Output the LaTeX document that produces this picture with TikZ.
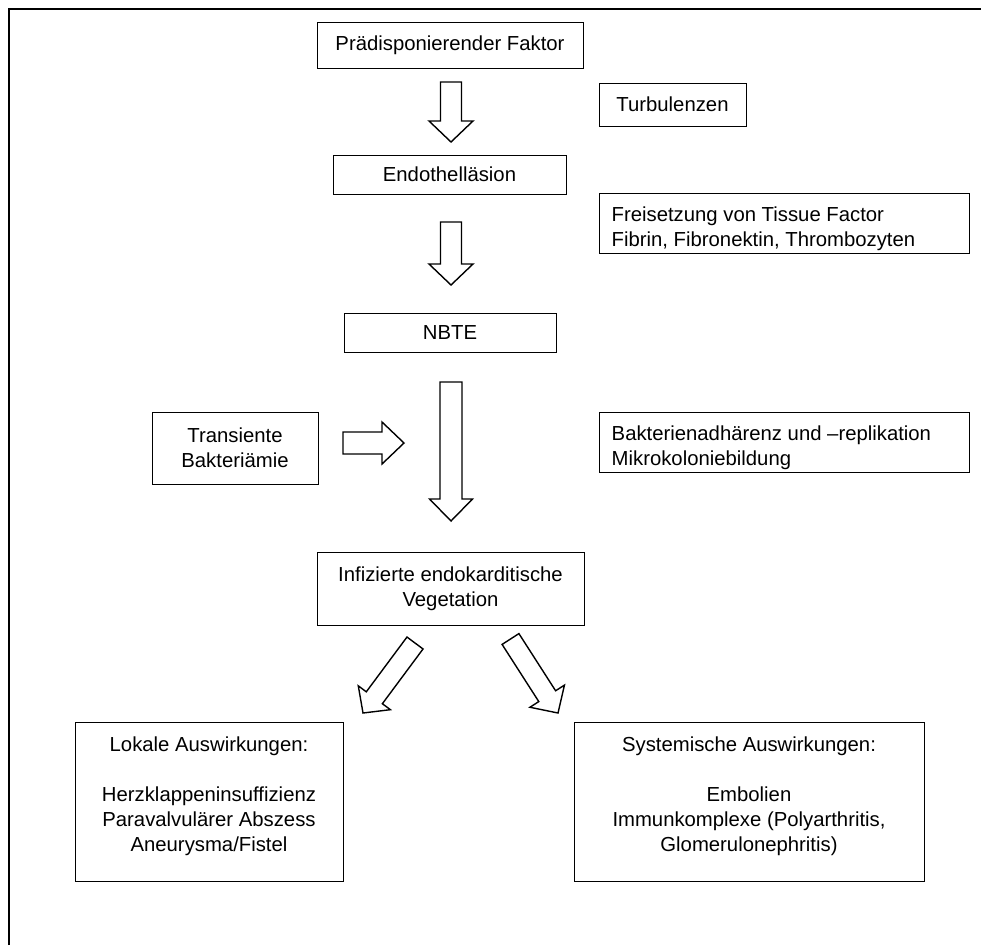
\documentclass[tikz,border=0pt]{standalone}
\usepackage{fontspec}
\setmainfont{Liberation Sans}
\usetikzlibrary{calc}

\tikzset{
   box/.style={draw, line width=1pt, inner sep=0pt, align=center},
   blockarrow/.style={draw, line width=1.4pt, fill=white, line join=miter},
   frame/.style={line width=2.7pt},
   boxhead/.style={anchor=north, inner sep=0pt, yshift=-15.5pt, align=center},
   sidehead/.style={anchor=north west, inner sep=0pt, xshift=13pt, yshift=-14.5pt, align=left}
}

% hollow block arrow from #1 to #2: half shaft #3, half head #4, head length #5
\newcommand{\blockarrow}[5]{%
   \coordinate (#1-#2) at ($(#2)!#5pt!(#1)$);
   \draw[blockarrow] ($(#1)!#3pt!90:(#2)$) -- ($(#1-#2)!#3pt!90:(#2)$)
      -- ($(#1-#2)!#4pt!90:(#2)$) -- (#2) -- ($(#1-#2)!#4pt!-90:(#2)$)
      -- ($(#1-#2)!#3pt!-90:(#2)$) -- ($(#1)!#3pt!-90:(#2)$) -- cycle;}

\begin{document}
\begin{tikzpicture}[x=1pt, y=-1pt, font=\fontsize{20.3}{25}\selectfont]
   \useasboundingbox (0,0) rectangle (981,945);
   % Frame
   \draw[frame] (9,945) -- (9,9) -- (981,9);
   % Main chain
   \node[box, minimum width=266, minimum height=46] (faktor) at (450,45) {Prädisponierender Faktor};
   \node[box, minimum width=233, minimum height=39] (laesion) at (449.5,174.5) {Endothelläsion};
   \node[box, minimum width=212, minimum height=39] (nbte) at (450,332.5) {NBTE};
   \node[box, minimum width=267, minimum height=73] (vegetation) at (450.5,588.5) {Infizierte endokarditische\\Vegetation};
   % Side boxes
   \node[box, minimum width=147, minimum height=43] (turbulenz) at (672.5,104.5) {Turbulenzen};
   \node[box, minimum width=370, minimum height=60,
      label={[sidehead]north west:{Freisetzung von Tissue Factor\\Fibrin, Fibronektin, Thrombozyten}}]
      (tissue) at (784,223) {};
   \node[box, minimum width=370, minimum height=60,
      label={[sidehead]north west:{Bakterienadhärenz und –replikation\\Mikrokoloniebildung}}]
      (adhaerenz) at (784,442) {};
   \node[box, minimum width=166, minimum height=72] (bakteriaemie) at (235,448) {Transiente\\Bakteriämie};
   % Consequences
   \node[box, minimum width=268, minimum height=159,
      label={[boxhead]north:{Lokale Auswirkungen:\\[25pt]Herzklappeninsuffizienz\\Paravalvulärer Abszess\\Aneurysma/Fistel}}]
      (lokal) at (209,801.5) {};
   \node[box, minimum width=350, minimum height=159,
      label={[boxhead]north:{Systemische Auswirkungen:\\[25pt]Embolien\\Immunkomplexe (Polyarthritis,\\Glomerulonephritis)}}]
      (system) at (749,801.5) {};
   % Arrows
   \coordinate (a1s) at (451,82);
   \coordinate (a1e) at (451,142);
   \coordinate (a2s) at (451,222);
   \coordinate (a2e) at (451,285);
   \coordinate (a3s) at (451,382);
   \coordinate (a3e) at (451,521);
   \coordinate (a4s) at (343,443);
   \coordinate (a4e) at (404,443);
   \coordinate (a5s) at (415,643);
   \coordinate (a5e) at (363,713);
   \coordinate (a6s) at (510.5,639);
   \coordinate (a6e) at (558,713);
   \blockarrow{a1s}{a1e}{10.5}{22}{21}
   \blockarrow{a2s}{a2e}{10.5}{22}{21}
   \blockarrow{a3s}{a3e}{11}{21.5}{22}
   \blockarrow{a4s}{a4e}{11}{21}{22}
   \blockarrow{a5s}{a5e}{10}{20}{19}
   \blockarrow{a6s}{a6e}{10}{20.5}{20}
\end{tikzpicture}
\end{document}
